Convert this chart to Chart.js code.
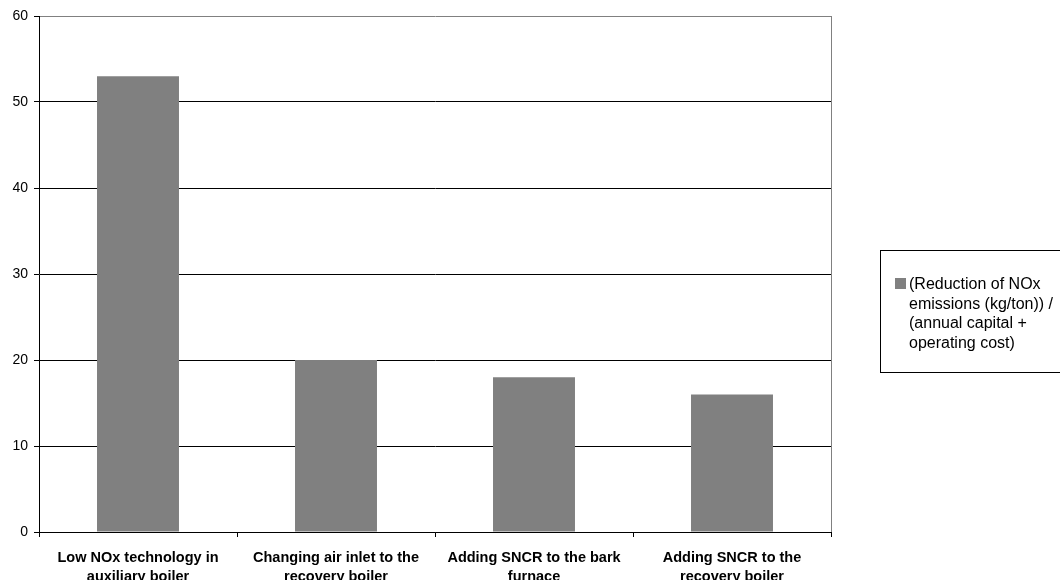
<!DOCTYPE html>
<html>
<head>
<meta charset="utf-8">
<script src="https://cdn.jsdelivr.net/npm/chart.js@4/dist/chart.umd.min.js"></script>
<style>
  html, body { margin: 0; padding: 0; background: #fff; }
  #wrap { position: relative; width: 1060px; height: 580px; overflow: hidden; }
  canvas { display: block; }
</style>
</head>
<body>
<div id="wrap"><canvas id="c" width="1060" height="580"></canvas></div>
<script>
// Measures compared (x axis), wrapped over two lines
const categories = [
  ['Low NOx technology in', 'auxiliary boiler'],
  ['Changing air inlet to the', 'recovery boiler'],
  ['Adding SNCR to the bark', 'furnace'],
  ['Adding SNCR to the', 'recovery boiler']
];
// Cost-effectiveness value for each measure
const effectiveness = [53, 20, 18, 16];
const seriesLabel = ['(Reduction of NOx', 'emissions (kg/ton)) /', '(annual capital +', 'operating cost)'];
const yTicks = [0, 10, 20, 30, 40, 50, 60];

const FONT = '"Liberation Sans", Arial, sans-serif';
const BAR_GREY = '#808080';

// Grey right-hand frame of the plot area
const frame = {
  id: 'frame',
  afterDatasetsDraw(chart) {
    const { ctx, chartArea: a } = chart;
    ctx.save();
    ctx.strokeStyle = '#808080';
    ctx.lineWidth = 1;
    ctx.beginPath();
    ctx.moveTo(Math.round(a.right) + 0.5, a.top);
    ctx.lineTo(Math.round(a.right) + 0.5, a.bottom);
    ctx.stroke();
    ctx.restore();
  }
};

// Boxed legend on the right with wrapped series name
const boxLegend = {
  id: 'boxLegend',
  afterDraw(chart) {
    const { ctx } = chart;
    const ds = chart.data.datasets[0];
    ctx.save();
    ctx.strokeStyle = '#000';
    ctx.lineWidth = 1;
    ctx.strokeRect(880.5, 250.5, 200, 122);
    ctx.fillStyle = ds.backgroundColor;
    ctx.fillRect(895, 278, 11, 11);
    ctx.fillStyle = '#000';
    ctx.font = '16px ' + FONT;
    ctx.textBaseline = 'middle';
    ctx.textAlign = 'left';
    ds.legendLines.forEach((t, i) => ctx.fillText(t, 909, 285 + i * 19.5));
    ctx.restore();
  }
};

new Chart(document.getElementById('c'), {
  type: 'bar',
  data: {
    labels: categories,
    datasets: [{
      label: seriesLabel.join(' '),
      legendLines: seriesLabel,
      data: effectiveness,
      backgroundColor: BAR_GREY,
      borderWidth: 0,
      categoryPercentage: 1,
      barPercentage: 0.414
    }]
  },
  options: {
    responsive: false,
    animation: false,
    devicePixelRatio: 1,
    layout: { padding: { top: 16, right: 229, left: 0, bottom: 0 } },
    plugins: { legend: { display: false }, tooltip: { enabled: false } },
    scales: {
      x: {
        offset: true,
        grid: { display: true, drawOnChartArea: false, drawTicks: true, tickLength: 5, color: '#000', offset: true },
        border: { display: true, color: '#000', width: 1 },
        ticks: {
          color: '#000',
          font: { family: FONT, size: 14.5, weight: 'bold', lineHeight: 1.3 },
          padding: 12,
          maxRotation: 0,
          autoSkip: false
        },
        afterFit(s) { s.height = 48; }
      },
      y: {
        min: 0,
        max: 60,
        afterBuildTicks(s) { s.ticks = yTicks.map(v => ({ value: v })); },
        grid: {
          color: ctx => (ctx.tick && ctx.tick.value === 60 ? '#808080' : '#000'),
          lineWidth: 1,
          drawTicks: true,
          tickLength: 5,
          tickColor: '#000'
        },
        border: { display: true, color: '#000', width: 1 },
        ticks: {
          color: '#000',
          font: { family: FONT, size: 14 },
          padding: 6
        },
        afterFit(s) { s.width = 39; }
      }
    }
  },
  plugins: [frame, boxLegend]
});
</script>
</body>
</html>
